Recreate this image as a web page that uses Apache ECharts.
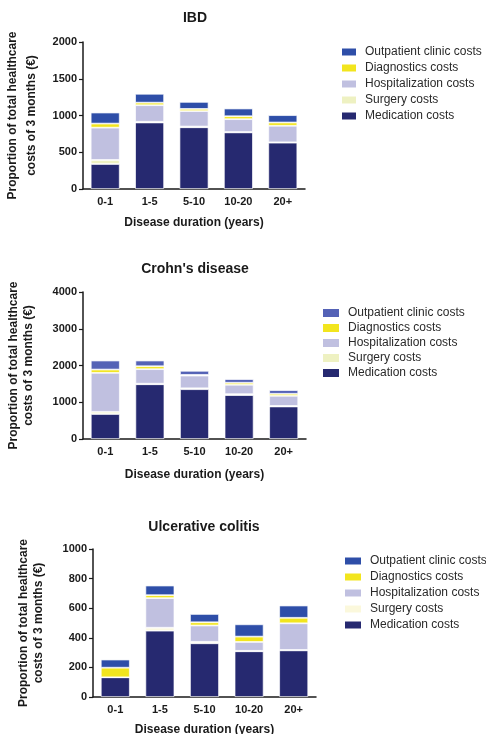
<!DOCTYPE html>
<html>
<head>
<meta charset="utf-8">
<script src="https://cdn.jsdelivr.net/npm/echarts@6/dist/echarts.min.js"></script>
<style>
html,body{margin:0;padding:0;background:#fff;}
#chart{width:486px;height:734px;}
</style>
</head>
<body>
<div id="chart"></div>
<script>
var categories = ['0-1', '1-5', '5-10', '10-20', '20+'];
var costTypes = ['Outpatient clinic costs', 'Diagnostics costs', 'Hospitalization costs', 'Surgery costs', 'Medication costs'];

var ibdMedication = [340, 905, 840, 770, 630];
var ibdSurgery = [55, 10, 10, 5, 5];
var ibdHospitalization = [440, 225, 210, 175, 225];
var ibdDiagnostics = [55, 35, 30, 40, 45];
var ibdOutpatient = [150, 120, 95, 105, 100];

var cdMedication = [680, 1490, 1355, 1195, 885];
var cdSurgery = [60, 15, 25, 25, 15];
var cdHospitalization = [1060, 395, 345, 255, 275];
var cdDiagnostics = [90, 80, 20, 55, 55];
var cdOutpatient = [245, 155, 110, 100, 100];

var ucMedication = [133, 448, 363, 309, 315];
var ucSurgery = [0, 20, 10, 3, 3];
var ucHospitalization = [0, 200, 110, 60, 180];
var ucDiagnostics = [65, 20, 22, 36, 37];
var ucOutpatient = [55, 65, 56, 83, 83];

var chartTitles = ['IBD', "Crohn's disease", 'Ulcerative colitis'];
var yMaxes = [2000, 4000, 1000];
var yIntervals = [500, 1000, 200];

var panels = [
  {key: 'IBD', data: [ibdMedication, ibdSurgery, ibdHospitalization, ibdDiagnostics, ibdOutpatient],
   colors: ['#262970', '#eef1c2', '#c0c0e0', '#f2e51e', '#2e4ea8'],
   grid: {left: 83, top: 42, width: 222, height: 147, outerBoundsMode: 'none', containLabel: false},
   title: {left: 195, top: 11}, yGap: 42, yLine: 19, xGap: 28,
   legend: {left: 342, top: 46, itemGap: 4, w: 14, h: 7}},
  {key: 'CD', data: [cdMedication, cdSurgery, cdHospitalization, cdDiagnostics, cdOutpatient],
   colors: ['#262970', '#eef1c2', '#c0c0e0', '#f2e51e', '#5462b6'],
   grid: {left: 83, top: 292, width: 223, height: 147, outerBoundsMode: 'none', containLabel: false},
   title: {left: 195, top: 262}, yGap: 47, yLine: 15, xGap: 30,
   legend: {left: 323, top: 307, itemGap: 3, w: 16, h: 8}},
  {key: 'UC', data: [ucMedication, ucSurgery, ucHospitalization, ucDiagnostics, ucOutpatient],
   colors: ['#262970', '#fbf8dc', '#c0c0e0', '#f2e51e', '#2e4ea8'],
   grid: {left: 93, top: 549, width: 223, height: 148, outerBoundsMode: 'none', containLabel: false},
   title: {left: 204, top: 520}, yGap: 47, yLine: 15, xGap: 27,
   legend: {left: 345, top: 555, itemGap: 4, w: 16, h: 7}}
];
var stackOrder = ['Medication costs', 'Surgery costs', 'Hospitalization costs', 'Diagnostics costs', 'Outpatient clinic costs'];

var FONT = '"Liberation Sans", Arial, sans-serif';
var option = {
  animation: false,
  backgroundColor: '#fff',
  title: [], grid: [], xAxis: [], yAxis: [], legend: [], series: []
};

panels.forEach(function (p, i) {
  option.title.push({
    text: chartTitles[i], left: p.title.left, top: p.title.top, textAlign: 'center', padding: 0,
    textStyle: {fontFamily: FONT, fontSize: 14, fontWeight: 'bold', color: '#1a1a1a'}
  });
  option.grid.push(p.grid);
  option.xAxis.push({
    type: 'category', gridIndex: i, data: categories,
    name: 'Disease duration (years)', nameLocation: 'middle', nameGap: p.xGap,
    nameTextStyle: {fontFamily: FONT, fontSize: 12, fontWeight: 'bold', color: '#1a1a1a'},
    axisLine: {lineStyle: {color: '#1a1a1a', width: 1.5}},
    axisTick: {alignWithLabel: true, length: 4, lineStyle: {color: '#1a1a1a', width: 1.2}},
    axisLabel: {fontFamily: FONT, fontSize: 11, fontWeight: 'bold', color: '#1a1a1a', margin: 7}
  });
  option.yAxis.push({
    type: 'value', gridIndex: i, min: 0, max: yMaxes[i], interval: yIntervals[i],
    name: 'Proportion of total healthcare\ncosts of 3 months (\u20ac)',
    nameLocation: 'middle', nameGap: p.yGap, nameRotate: 90,
    nameTextStyle: {fontFamily: FONT, fontSize: 12, fontWeight: 'bold', color: '#1a1a1a', lineHeight: p.yLine},
    splitLine: {show: false},
    axisLine: {show: true, lineStyle: {color: '#1a1a1a', width: 1.5}},
    axisTick: {show: true, length: 4, lineStyle: {color: '#1a1a1a', width: 1.2}},
    axisLabel: {fontFamily: FONT, fontSize: 11, fontWeight: 'bold', color: '#1a1a1a', margin: 6,
      formatter: function (v) { return String(v); }}
  });
  var names = [];
  stackOrder.forEach(function (nm, k) {
    var sname = p.key + '|' + nm;
    option.series.push({
      name: sname, type: 'bar', stack: p.key, xAxisIndex: i, yAxisIndex: i,
      data: p.data[k], barWidth: 29,
      itemStyle: {color: p.colors[k], borderColor: 'rgba(255,255,255,0.85)', borderWidth: 0.8}
    });
  });
  costTypes.forEach(function (nm) { names.push(p.key + '|' + nm); });
  option.legend.push({
    orient: 'vertical', left: p.legend.left, top: p.legend.top, padding: 0,
    itemWidth: p.legend.w, itemHeight: p.legend.h, itemGap: p.legend.itemGap,
    icon: 'rect', data: names, selectedMode: false,
    formatter: function (n) { return n.split('|')[1]; },
    itemStyle: {borderWidth: 0},
    textStyle: {fontFamily: FONT, fontSize: 12, color: '#2a2a2a', lineHeight: 12, padding: [0, 0, 0, 4]}
  });
});

var chart = echarts.init(document.getElementById('chart'), null, {renderer: 'canvas'});
chart.setOption(option);
</script>
</body>
</html>
